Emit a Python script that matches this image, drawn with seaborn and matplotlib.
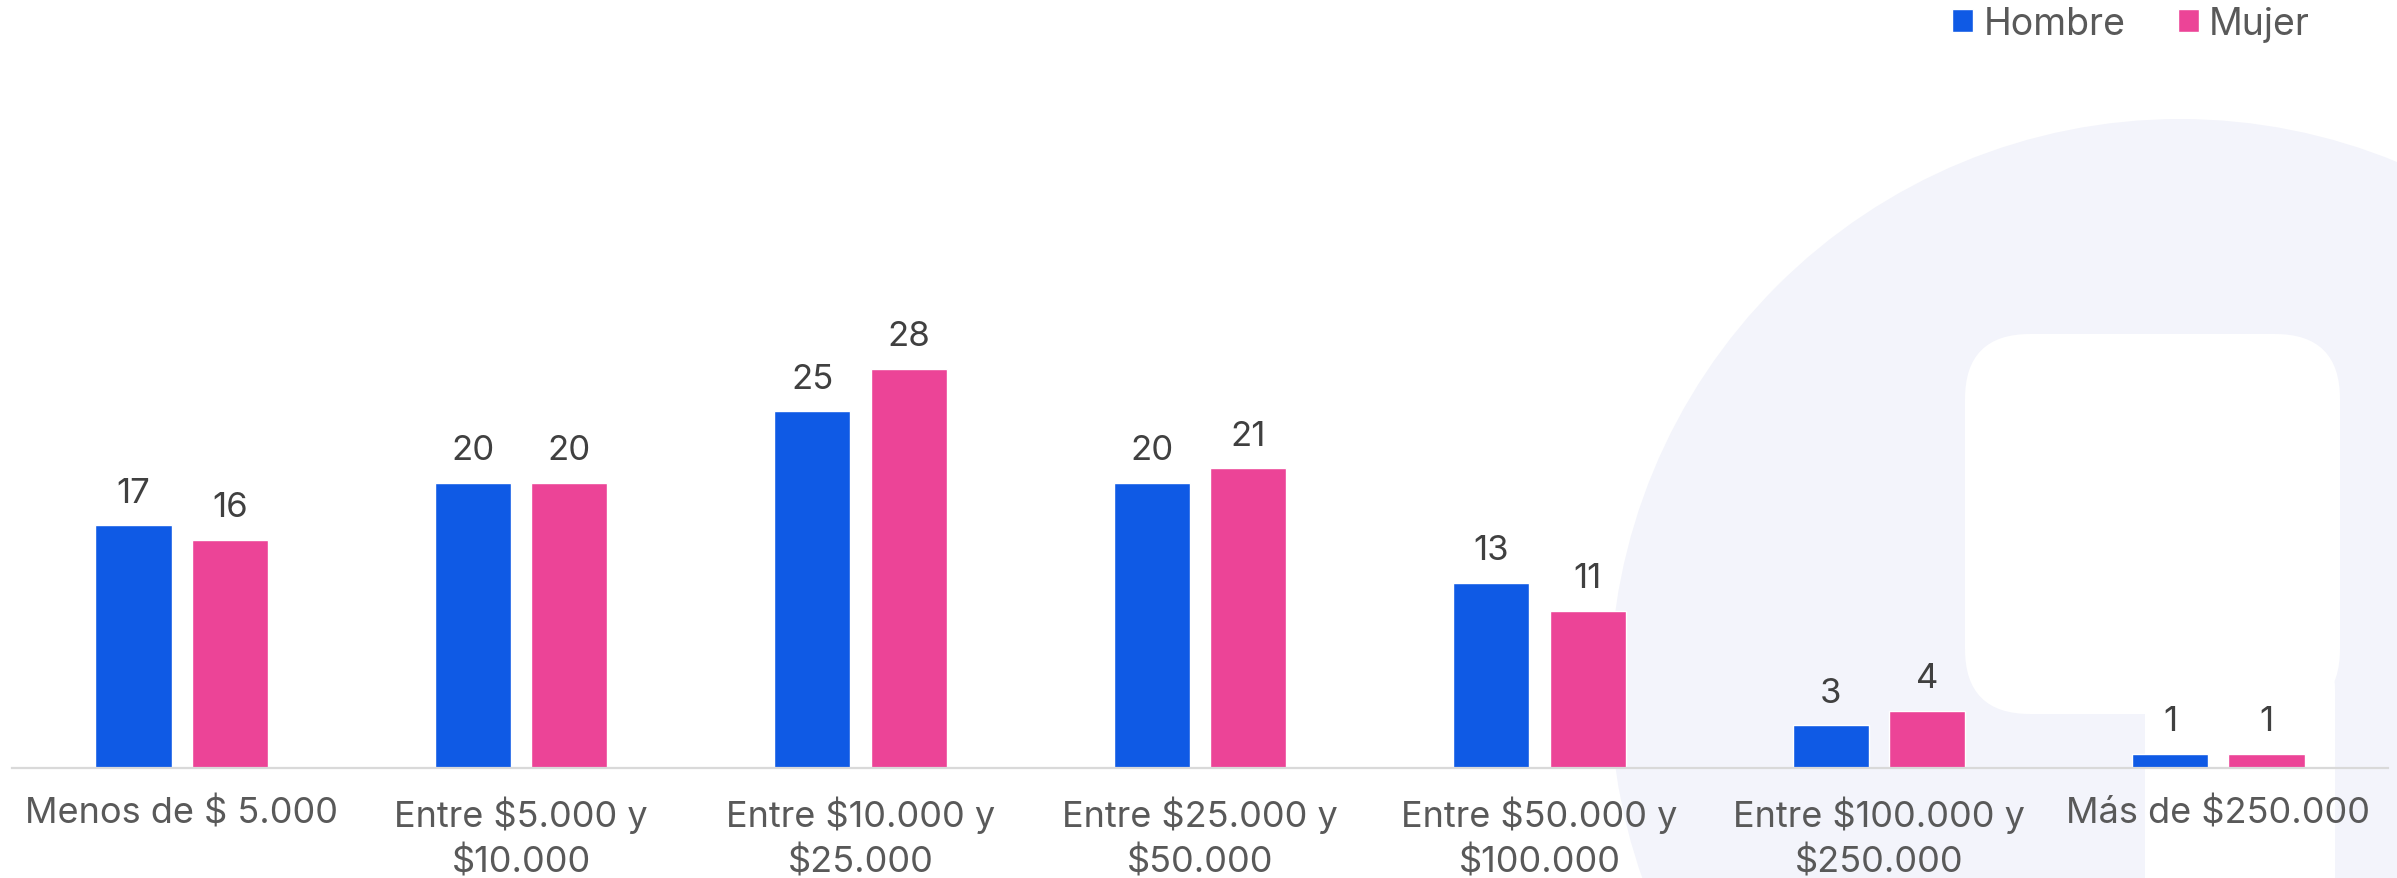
import numpy as np
import pandas as pd
from matplotlib import pyplot as plt
from matplotlib.patches import Circle, FancyBboxPatch
import seaborn as sns

# data
categories = ['Menos de $ 5.000', 'Entre $5.000 y\n$10.000', 'Entre $10.000 y\n$25.000',
              'Entre $25.000 y\n$50.000', 'Entre $50.000 y\n$100.000',
              'Entre $100.000 y\n$250.000', 'Más de $250.000']
hombre = [17, 20, 25, 20, 13, 3, 1]
mujer = [16, 20, 28, 21, 11, 4, 1]
series_names = ['Hombre', 'Mujer']
colors = ['#0F5AE5', '#EC4497']

df = pd.DataFrame({
    'cat': categories * 2,
    'valor': hombre + mujer,
    'sexo': [series_names[0]] * len(categories) + [series_names[1]] * len(categories),
})

sns.set_theme(style='white')
plt.rcParams['font.family'] = ['Inter', 'DejaVu Sans']

W, H = 2397, 879
fig = plt.figure(figsize=(W / 100, H / 100), dpi=100)

# background watermark (logo shape)
bg = fig.add_axes([0, 0, 1, 1], zorder=0)
bg.set_xlim(0, W)
bg.set_ylim(H, 0)
bg.axis('off')
bg.add_patch(Circle((2180, 690), 570, color='#F3F4FB', lw=0))
bg.add_patch(FancyBboxPatch((1965 + 65, 335 + 65), 375 - 130, 380 - 130,
                            boxstyle='round,pad=65', color='white', lw=0))
bg.add_patch(FancyBboxPatch((2145 + 40, 690), 190 - 80, 300,
                            boxstyle='round,pad=40', color='white', lw=0))

ax = fig.add_axes([12 / W, 1 - 769 / H, (2388 - 12) / W, 428 / H], zorder=1)
ax.patch.set_alpha(0)
sns.barplot(data=df, x='cat', y='valor', hue='sexo', palette=colors,
            width=0.568, gap=0.21, ax=ax, saturation=1)

ax.set_xlim(-0.5, len(categories) - 0.5)
ax.set_ylim(0, 30)
ax.set_xlabel('')
ax.set_ylabel('')
ax.set_yticks([])
ax.set_xticks(range(len(categories)))
ax.set_xticklabels([c.replace('$', r'\$') for c in categories],
                   fontsize=26, color='#595959', linespacing=1.4)
ax.tick_params(axis='x', length=0, pad=20)
for s in ['top', 'right', 'left']:
    ax.spines[s].set_visible(False)
ax.spines['bottom'].set_color('#D9D9D9')
ax.spines['bottom'].set_linewidth(1.6)

for cont in ax.containers:
    ax.bar_label(cont, fmt='%d', padding=12, fontsize=25, color='#404040')

leg = ax.get_legend()
handles = leg.legend_handles
leg.remove()
fig.legend(handles, series_names, loc='center right',
           bbox_to_anchor=(2310 / W, 1 - 25 / H), ncol=2, frameon=False,
           fontsize=27, labelcolor='#595959', handlelength=0.55,
           handleheight=0.55, handletextpad=0.28, columnspacing=1.4,
           borderpad=0, borderaxespad=0)

plt.savefig('out.png', dpi=100)
